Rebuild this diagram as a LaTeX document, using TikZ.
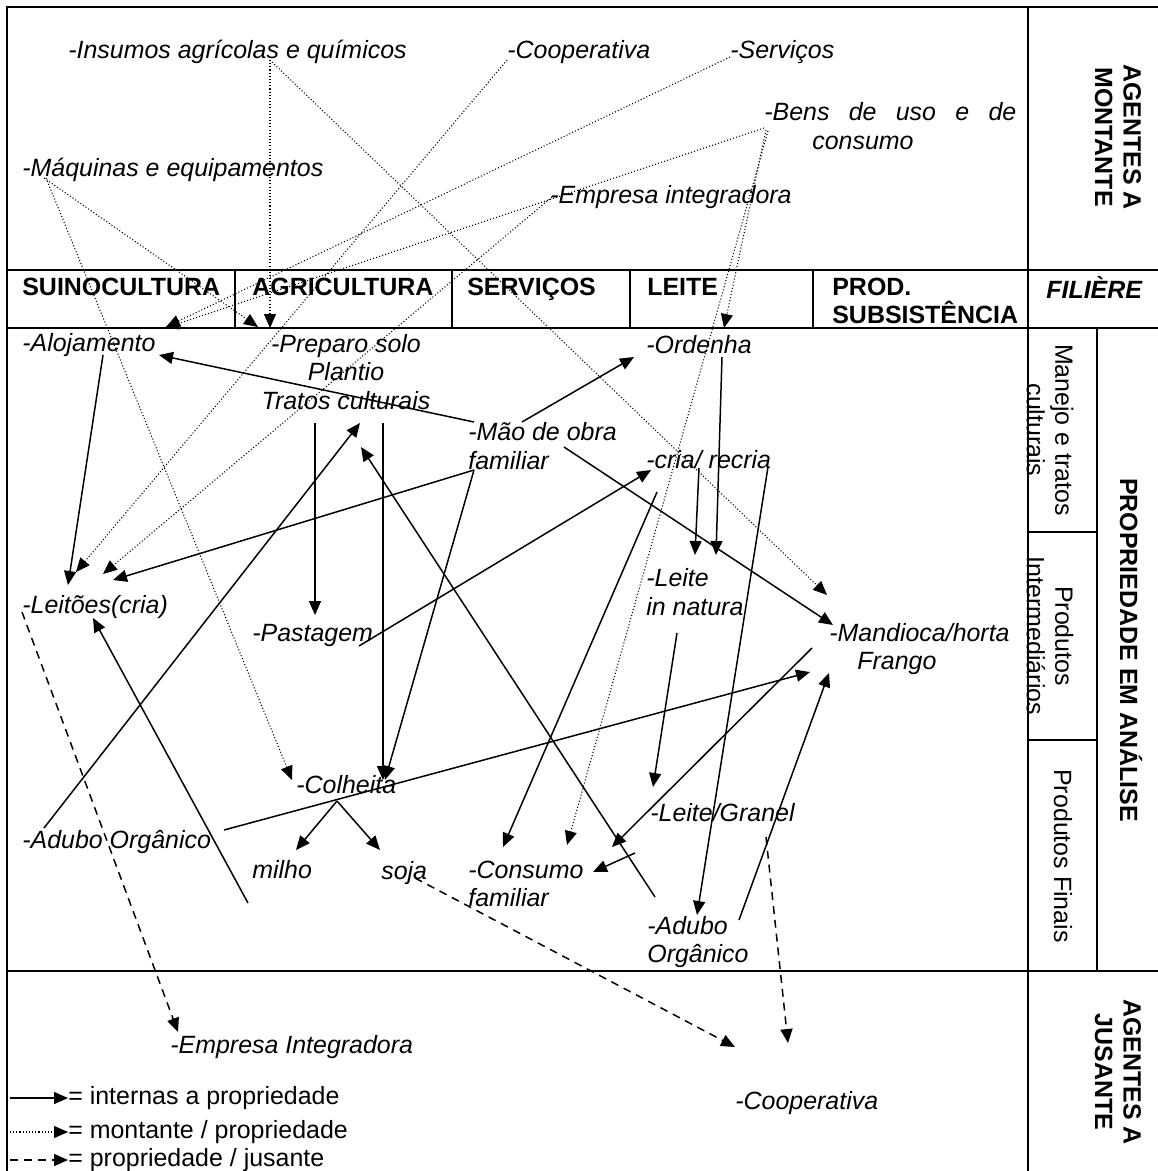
\documentclass[tikz,border=0pt]{standalone}
\usepackage{fontspec}
\setmainfont{Liberation Sans}
\usetikzlibrary{arrows.meta,calc}
\newcommand\diagfont{\fontsize{14.2}{16.2}\selectfont}
\tikzset{
  intarrow/.style={-{Triangle[length=2.8mm,width=2.4mm]}, line width=0.85pt},
  montarrow/.style={-{Triangle[length=2.8mm,width=2.4mm]}, line width=0.6pt, dash pattern=on 0.6pt off 1.2pt},
  jusarrow/.style={-{Triangle[length=2.8mm,width=2.4mm]}, line width=0.85pt, dash pattern=on 4.5pt off 3.4pt},
  frameline/.style={line width=1.4pt},
  elem/.style={font=\diagfont\itshape, anchor=west, align=left},
  cellhead/.style={font=\diagfont\bfseries, anchor=west, align=left},
  sidelabel/.style={font=\diagfont\bfseries, rotate=-90, align=center},
  sidenote/.style={font=\diagfont, rotate=-90, align=center},
  legtext/.style={font=\diagfont, anchor=west}
}

\begin{document}
\begin{tikzpicture}[x=0.02cm, y=-0.02cm, every node/.style={inner sep=0pt}]
  \useasboundingbox (0,0) rectangle (1158,1171);
  % frame
  \draw[frameline] (1158,7) -- (7,7) -- (7,1171);
  \draw[frameline] (7,270) -- (1158,270);
  \draw[frameline] (7,328) -- (1158,328);
  \draw[frameline] (7,971) -- (1158,971);
  \draw[frameline] (1028,7) -- (1028,1171);
  \draw[frameline] (1097,328) -- (1097,971);
  \draw[frameline] (1028,532) -- (1097,532);
  \draw[frameline] (1028,740) -- (1097,740);
  \foreach \x in {235,452,630,813}
    \draw[frameline] (\x,270) -- (\x,328);

  % agentes a montante
  \node[elem] (insumos) at (68,52) {-Insumos agrícolas e químicos};
  \node[elem] (coopm) at (507,52) {-Cooperativa};
  \node[elem] (servicos) at (730,52) {-Serviços};
  \node[elem] (bens) at (764,126) {\makebox[5.04cm][s]{-Bens de uso e de}\\\hspace*{0.96cm}consumo};
  \node[elem] (maquinas) at (22,170) {-Máquinas e equipamentos};
  \node[elem] (empresam) at (550,197) {-Empresa integradora};

  % filiere
  \node[cellhead] (suino) at (22,287) {SUINOCULTURA};
  \node[cellhead] (agri) at (252,287) {AGRICULTURA};
  \node[cellhead, text depth=0pt] (serv) at (467,287) {SERVIÇOS};
  \node[cellhead] (leitecol) at (647,287) {LEITE};
  \node[cellhead] (prod) at (832,301) {PROD.\\SUBSISTÊNCIA};
  \node[cellhead, font=\diagfont\bfseries\itshape] (filiere) at (1046,287) {FILIÈRE};

  % right column
  \node[sidelabel] (montante) at (1118,137) {AGENTES A\\MONTANTE};
  \node[sidelabel] (propriedade) at (1131,650) {PROPRIEDADE EM ANÁLISE};
  \node[sidelabel] (jusante) at (1118,1072) {AGENTES A\\JUSANTE};
  \node[sidenote] (manejo) at (1050,430) {Manejo e tratos\\culturais};
  \node[sidenote] (prodint) at (1050,636) {Produtos\\Intermediários};
  \node[sidenote] (prodfin) at (1063,856) {Produtos Finais};

  % propriedade
  \node[elem] (aloj) at (22,345) {-Alojamento};
  \node[elem, anchor=center, align=center] (preparo) at (346,372) {-Preparo solo\\Plantio\\Tratos culturais};
  \node[elem] (mao) at (468,446) {-Mão de obra\\familiar};
  \node[elem] (ordenha) at (646,345) {-Ordenha};
  \node[elem] (cria) at (646,460) {-cria/ recria};
  \node[elem] (leite) at (646,592) {-Leite\\in natura};
  \node[elem] (mandioca) at (829,649) {-Mandioca/horta\\\hspace*{0.56cm}Frango};
  \node[elem] (leitoes) at (22,607) {-Leitões(cria)};
  \node[elem] (pastagem) at (252,635) {-Pastagem};
  \node[elem] (colheita) at (296,785) {-Colheita};
  \node[elem] (adubol) at (22,842) {-Adubo Orgânico};
  \node[elem] (milho) at (252,870) {milho};
  \node[elem, text depth=0pt] (soja) at (381,870) {soja};
  \node[elem] (consumo) at (468,884) {-Consumo\\familiar};
  \node[elem] (granel) at (650,813) {-Leite/Granel};
  \node[elem] (adubor) at (647,942) {-Adubo\\Orgânico};

  % agentes a jusante
  \node[elem] (empresaj) at (170,1047) {-Empresa Integradora};
  \node[elem] (coopj) at (735,1103) {-Cooperativa};

  % internas a propriedade
  \draw[intarrow] ($(aloj.west)+(81,10)$) -- ($(leitoes.west)+(46,-22)$);
  \draw[intarrow] ($(mao.west)+(6,-24)$) -- ($(aloj.west)+(137,10)$);
  \draw[intarrow] ($(mao.west)+(54,-24)$) -- ($(ordenha.west)+(-12,12)$);
  \draw[intarrow] ($(mao.west)+(6,24)$) -- ($(leitoes.west)+(91,-27)$);
  \draw[intarrow] ($(mao.west)+(6,24)$) -- ($(colheita.west)+(89,-5)$);
  \draw[intarrow] ($(mao.west)+(96,1)$) -- ($(mandioca.west)+(4,-24)$);
  \draw[intarrow] ($(preparo.center)+(-31,51)$) -- ($(pastagem.west)+(63,-20)$);
  \draw[intarrow] ($(preparo.center)+(37,51)$) -- ($(colheita.west)+(87,-5)$);
  \draw[intarrow] ($(adubol.west)+(22,-14)$) -- ($(preparo.center)+(14,51)$);
  \draw[intarrow] ($(adubor.west)+(8,-45)$) -- ($(preparo.center)+(15,75)$);
  \draw[intarrow] ($(milho.west)+(-4,33)$) -- ($(leitoes.west)+(71,11)$);
  \draw[intarrow] ($(pastagem.west)+(107,11)$) -- ($(cria.west)+(5,10)$);
  \draw[intarrow] ($(ordenha.west)+(76,12)$) -- ($(leite.west)+(70,-37)$);
  \draw[intarrow] ($(cria.west)+(53,8)$) -- ($(leite.west)+(49,-37)$);
  \draw[intarrow] ($(cria.west)+(122,7)$) -- ($(adubor.west)+(50,-27)$);
  \draw[intarrow] ($(cria.west)+(11,32)$) -- ($(consumo.west)+(35,-37)$);
  \draw[intarrow] ($(leite.west)+(31,41)$) -- ($(granel.west)+(3,-26)$);
  \draw[intarrow] ($(mandioca.west)+(-17,-1)$) -- ($(consumo.west)+(144,-37)$);
  \draw[intarrow] ($(granel.west)+(-15,40)$) -- ($(consumo.west)+(125,-12)$);
  \draw[intarrow] ($(adubol.west)+(202,-12)$) -- ($(mandioca.west)+(-19,23)$);
  \draw[intarrow] ($(adubor.west)+(92,-22)$) -- ($(mandioca.west)+(0,24)$);
  \draw[intarrow] ($(colheita.west)+(41,16)$) -- ($(milho.west)+(44,-20)$);
  \draw[intarrow] ($(colheita.west)+(41,16)$) -- ($(soja.west)+(-1,-20)$);

  % montante / propriedade
  \draw[montarrow] ($(insumos.west)+(202,8)$) -- ($(preparo.center)+(-76,-44)$);
  \draw[montarrow] ($(insumos.west)+(204,10)$) -- ($(mandioca.west)+(-2,-54)$);
  \draw[montarrow] ($(maquinas.west)+(22,8)$) -- ($(preparo.center)+(-88,-45)$);
  \draw[montarrow] ($(maquinas.west)+(24,8)$) -- ($(colheita.west)+(-4,-5)$);
  \draw[montarrow] ($(coopm.west)+(0,8)$) -- ($(leitoes.west)+(54,-35)$);
  \draw[montarrow] ($(empresam.west)+(2,0)$) -- ($(leitoes.west)+(81,-33)$);
  \draw[montarrow] ($(servicos.west)+(0,5)$) -- ($(aloj.west)+(144,-18)$);
  \draw[montarrow] ($(bens.west)+(0,2)$) -- ($(aloj.west)+(143,-17)$);
  \draw[montarrow] ($(bens.west)+(2,4)$) -- ($(ordenha.west)+(78,-17)$);
  \draw[montarrow] ($(bens.west)+(4,5)$) -- ($(consumo.west)+(99,-39)$);

  % propriedade / jusante
  \draw[jusarrow] ($(leitoes.west)+(0,5)$) -- ($(empresaj.west)+(8,-15)$);
  \draw[jusarrow] ($(soja.west)+(34,8)$) -- ($(coopj.west)+(0,-56)$);
  \draw[jusarrow] ($(granel.west)+(116,24)$) -- ($(coopj.west)+(53,-60)$);

  % legend
  \node[legtext] (leg1) at (68,1098) {= internas a propriedade};
  \node[legtext] (leg2) at (68,1132) {= montante / propriedade};
  \node[legtext] (leg3) at (68,1160) {= propriedade / jusante};
  \coordinate (l1) at (10,1098);
  \coordinate (l2) at (10,1132);
  \coordinate (l3) at (10,1160);
  \draw[intarrow] (l1) -- (leg1.west);
  \draw[montarrow] (l2) -- (leg2.west);
  \draw[jusarrow] (l3) -- (leg3.west);
\end{tikzpicture}
\end{document}
